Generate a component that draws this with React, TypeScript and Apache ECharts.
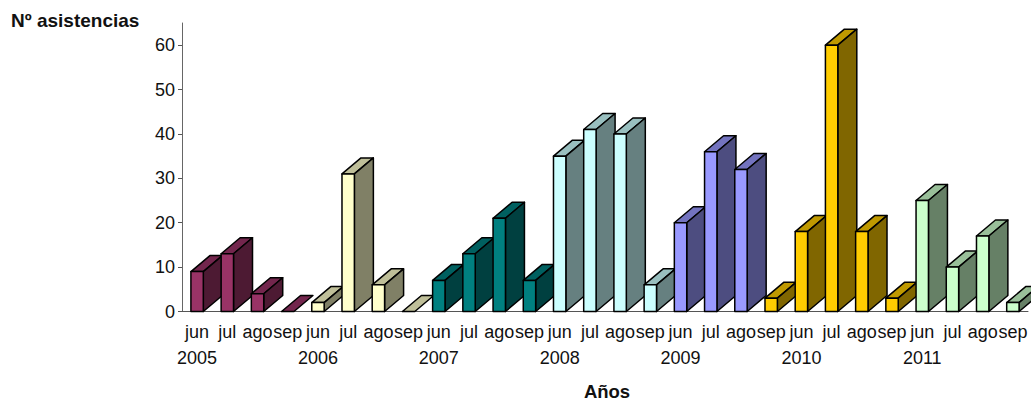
import React, { useEffect, useRef } from "react";
import * as echarts from "echarts";

const months = ["jun", "jul", "ago", "sep"];
const years = ["2005", "2006", "2007", "2008", "2009", "2010", "2011"];
const attendance = [
  9, 13, 4, 0,
  2, 31, 6, 0,
  7, 13, 21, 7,
  35, 41, 40, 6,
  20, 36, 32, 3,
  18, 60, 18, 3,
  25, 10, 17, 2,
];
// Face colours of each bar family: front, side, top.
const maroon = ["#993366", "#4D1A33", "#73264D"];
const cream = ["#FFFFCC", "#808066", "#BFBF99"];
const teal = ["#008080", "#004040", "#006060"];
const ice = ["#CCFFFF", "#668080", "#99BFBF"];
const periwinkle = ["#9999FF", "#4D4D80", "#7373BF"];
const gold = ["#FFCC00", "#806600", "#BF9900"];
const mint = ["#CCFFCC", "#668066", "#99BF99"];
const palettes = [maroon, cream, teal, ice, periwinkle, gold, mint];
// Palette used by each bar; the 2009 "sep" bar already belongs to the gold run.
const barPalette = [
  0, 0, 0, 0,
  1, 1, 1, 1,
  2, 2, 2, 2,
  3, 3, 3, 3,
  4, 4, 4, 5,
  5, 5, 5, 5,
  6, 6, 6, 6,
];

const monthLabels = years.flatMap(() => months);
const yearLabels = years.flatMap((y) => [y, "", "", ""]);
const yTicks = [0, 10, 20, 30, 40, 50, 60];

const FONT = '"Liberation Sans", Arial, sans-serif';
const BAR_RATIO = 0.41;
const DEPTH_X = 19;
const DEPTH_Y = 16;
const EDGE = { stroke: "#000", lineWidth: 1.5, lineJoin: "round" as const };

function renderBar(params: any, api: any) {
  const index = api.value(0);
  const value = api.value(1);
  const [front, side, top] = palettes[barPalette[index]];
  const [cx, baseY] = api.coord([index, 0]);
  const [, topY] = api.coord([index, value]);
  const half = (api.size([1, 0])[0] * BAR_RATIO) / 2;
  const x0 = cx - half;
  const x1 = cx + half;
  const poly = (points: number[][], fill: string) => ({
    type: "polygon",
    shape: { points },
    style: { fill, ...EDGE },
  });
  const faces = [
    poly(
      [
        [x0, topY],
        [x1, topY],
        [x1 + DEPTH_X, topY - DEPTH_Y],
        [x0 + DEPTH_X, topY - DEPTH_Y],
      ],
      top,
    ),
  ];
  if (value > 0) {
    faces.push(
      poly(
        [
          [x1, baseY],
          [x1, topY],
          [x1 + DEPTH_X, topY - DEPTH_Y],
          [x1 + DEPTH_X, baseY - DEPTH_Y],
        ],
        side,
      ),
      poly(
        [
          [x0, baseY],
          [x1, baseY],
          [x1, topY],
          [x0, topY],
        ],
        front,
      ),
    );
  }
  return { type: "group", children: faces };
}

export default function App() {
  const ref = useRef<HTMLDivElement>(null);

  useEffect(() => {
    const chart = echarts.init(ref.current, undefined, { renderer: "svg" });
    chart.setOption({
      animation: false,
      backgroundColor: "#fff",
      textStyle: { fontFamily: FONT },
      title: [
        {
          text: "Nº asistencias",
          left: 11,
          top: 11,
          padding: 0,
          textStyle: { fontFamily: FONT, fontSize: 19, fontWeight: "bold", color: "#111" },
        },
        {
          text: "Años",
          left: 607,
          top: 382,
          padding: 0,
          textAlign: "center",
          textStyle: { fontFamily: FONT, fontSize: 18.5, fontWeight: "bold", color: "#111" },
        },
      ],
      grid: { left: 182, right: 3, top: 23, bottom: 91.5 },
      xAxis: [
        {
          type: "category",
          data: monthLabels,
          axisLine: { lineStyle: { color: "#555", width: 1 } },
          axisTick: { length: 4, lineStyle: { color: "#555" } },
          axisLabel: { interval: 0, margin: 11, fontSize: 18, color: "#111", fontFamily: FONT },
        },
        {
          type: "category",
          position: "bottom",
          offset: 25,
          data: yearLabels,
          axisLine: { show: false },
          axisTick: { show: false },
          axisLabel: { interval: 0, margin: 12, fontSize: 18, color: "#111", fontFamily: FONT },
        },
      ],
      yAxis: {
        type: "value",
        min: 0,
        max: 65,
        interval: 10,
        splitLine: { show: false },
        axisLine: { show: true, lineStyle: { color: "#666", width: 1 } },
        axisTick: { show: true, length: 4, lineStyle: { color: "#555" }, customValues: yTicks },
        axisLabel: { margin: 7, fontSize: 18, color: "#111", fontFamily: FONT, customValues: yTicks },
      },
      series: [
        {
          type: "custom",
          xAxisIndex: 0,
          clip: false,
          silent: true,
          data: attendance.map((v, i) => [i, v]),
          encode: { x: 0, y: 1 },
          renderItem: renderBar,
        },
      ],
    });
    return () => chart.dispose();
  }, []);

  return (
    <div
      ref={ref}
      style={{ position: "absolute", left: 0, top: 0, width: 1031, height: 403 }}
    />
  );
}
